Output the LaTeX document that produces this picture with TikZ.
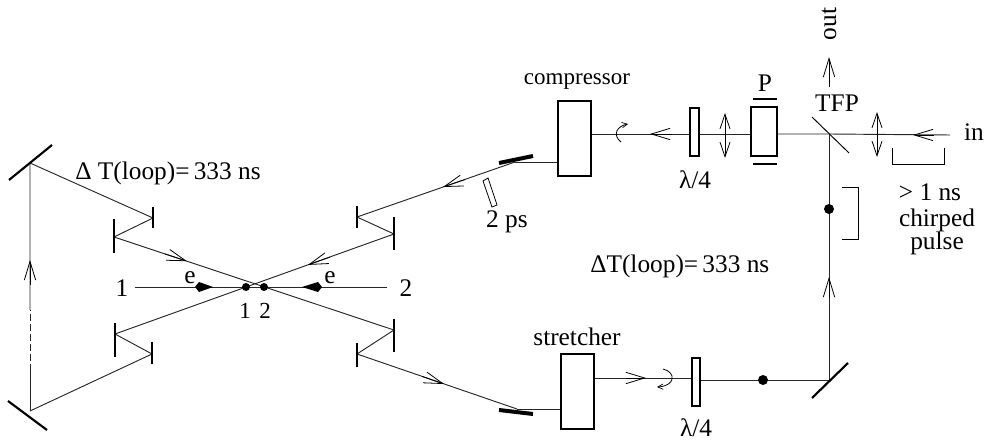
\documentclass[tikz,border=0pt]{standalone}
\usepackage{fontspec}
\setmainfont{Liberation Serif}
\usetikzlibrary{arrows.meta}
\tikzset{
 x=0.75pt,y=-0.75pt,
 beam/.style={line width=0.7pt,black!85},
 thick mirror/.style={line width=3pt,line cap=butt},
 mirror/.style={line width=1.6pt},
 optic/.style={draw,line width=1.5pt,fill=white,inner sep=0pt,minimum width=0pt},
 lbl/.style={inner sep=0pt,font=\fontsize{19}{21}\selectfont,text=black},
 sm/.style={inner sep=0pt,font=\fontsize{17.25}{19}\selectfont,text=black},
 ah/.style={-{Straight Barb[length=14pt,width=8.5pt,line width=0.6pt]},line width=0.6pt},
 dbl/.style={{Straight Barb[length=11pt,width=7.5pt,line width=0.6pt]}-{Straight Barb[length=11pt,width=7.5pt,line width=0.6pt]},line width=0.6pt},
 dot/.style={circle,fill=black,inner sep=0pt,minimum size=6pt},
 bigdot/.style={circle,fill=black,inner sep=0pt,minimum size=7.5pt},
 tick/.style={line width=0.6pt},
}
\begin{document}
\begin{tikzpicture}
\useasboundingbox (0,0) rectangle (988,441);
% beam points
\coordinate (ml) at (30,163); \coordinate (mb) at (30,411);
\coordinate (a1) at (153,218); \coordinate (a2) at (114,237);
\coordinate (a3) at (394,330); \coordinate (a4) at (357,354);
\coordinate (a5) at (517,409);
\coordinate (b1) at (152,354); \coordinate (b2) at (115,334);
\coordinate (b3) at (394,234); \coordinate (b4) at (357,217);
\coordinate (b5) at (515,162);
\coordinate (mr) at (829,380); \coordinate (tfp) at (829,134);
\coordinate (dashA) at (30,310); \coordinate (dashB) at (30,371);
% beams
\draw[beam] (mb) -- (dashB);
\draw[beam,dash pattern=on 5pt off 2.5pt] (dashB) -- (dashA);
\draw[beam] (dashA) -- (ml) -- (a1) -- (a2) -- (a3) -- (a4) -- (a5);
\draw[beam] (mb) -- (b1) -- (b2) -- (b3) -- (b4) -- (b5);
\draw[beam] (tfp) -- (mr);
% mirrors
\draw[mirror] (9,180) -- (52,145);
\draw[mirror] (8,401) -- (47,430);
\draw[mirror] (153,207) -- (153,228);
\draw[mirror] (114,219) -- (114,253);
\draw[mirror] (394,319) -- (394,352);
\draw[mirror] (357,343) -- (357,367);
\draw[mirror] (394,217) -- (394,250);
\draw[mirror] (357,206) -- (357,228);
\draw[mirror] (115,323) -- (115,357);
\draw[mirror] (152,342) -- (152,364);
\draw[thick mirror] (499,163) -- (533,156);
\draw[thick mirror] (499,410) -- (533,414);
\draw[mirror] (812,398) -- (848,363);
\draw[line width=0.7pt] (812,117) -- (849,153);
% boxes
\node[optic,minimum width=24.75pt,minimum height=56.25pt] (comp) at (574.5,138.5) {};
\node[optic,minimum width=24.75pt,minimum height=56.25pt] (stret) at (577.5,391.5) {};
\node[optic,minimum width=6.5pt,minimum height=36pt] (qw1) at (694.5,132) {};
\node[optic,minimum width=6.5pt,minimum height=36pt] (qw2) at (696,381.5) {};
\node[optic,minimum width=19.5pt,minimum height=36.75pt] (pc) at (764,131.5) {};
% links through boxes
\draw[beam] (b5) -- (comp.west |- b5);
\draw[beam] (a5) -- (stret.west |- a5);
\coordinate (y134) at (0,134); \coordinate (y378) at (0,378);
\draw[beam] (comp.east |- y134) -- (qw1.west |- y134);
\draw[beam] (qw1.east |- y134) -- (pc.west |- y134);
\draw[beam] (pc.east |- y134) -- (tfp) -- (950,135) coordinate (inA);
\draw[beam] (stret.east |- y378) -- (qw2.west |- y378);
\draw[beam] (qw2.east |- mr) -- (mr);
% P bars
\draw[mirror] (753,99) -- (777,99);
\draw[mirror] (753,164) -- (777,164);
% electron line
\coordinate (e1) at (135,287); \coordinate (e2) at (387,287);
\draw[beam] (e1) -- (e2);
\fill (195,287) -- (199,282) -- (213,287) -- (199,292) -- cycle;
\fill (322,287) -- (318,282) -- (302,287) -- (318,292) -- cycle;
\node[dot] (d1) at (246,287) {};
\node[dot] (d2) at (264,287) {};
\node[bigdot] (d3) at (829,209) {};
\node[bigdot] (d4) at (763,380) {};
% arrows
\coordinate (u1) at (30,285); \coordinate (u2) at (30,260);
\draw[ah] (u1) -- (u2);
\coordinate (r1) at (165,253.9); \coordinate (r2) at (187,261.2);
\draw[ah] (r1) -- (r2);
\coordinate (r3) at (330,257.1); \coordinate (r4) at (308,264.9);
\draw[ah] (r3) -- (r4);
\coordinate (r5) at (422,376.4); \coordinate (r6) at (444,384);
\draw[ah] (r5) -- (r6);
\coordinate (r7) at (465,179.6); \coordinate (r8) at (443,187);
\draw[ah] (r7) -- (r8);
\coordinate (h1) at (672,134); \coordinate (h2) at (650,134);
\draw[ah] (h1) -- (h2);
\coordinate (h3) at (626,378); \coordinate (h4) at (646,378);
\draw[ah] (h3) -- (h4);
\coordinate (h5) at (934,135); \coordinate (h6) at (913,135);
\draw[ah] (h5) -- (h6);
\coordinate (v1) at (829,87); \coordinate (v2) at (829,57);
\draw[ah] (v1) -- (v2);
\coordinate (v3) at (829,298); \coordinate (v4) at (829,277);
\draw[ah] (v3) -- (v4);
% lenses
\coordinate (l1a) at (725,113); \coordinate (l1b) at (725,158);
\draw[dbl] (l1a) -- (l1b);
\coordinate (l2a) at (877,112); \coordinate (l2b) at (877,157);
\draw[dbl] (l2a) -- (l2b);
% polarisation rotation
\draw[-{Straight Barb[length=4pt,width=4pt,line width=0.5pt]},line width=0.6pt] (621,142) .. controls (612,135) and (617,126) .. (628,124);
\draw[-{Straight Barb[length=4pt,width=4pt,line width=0.5pt]},line width=0.6pt] (663,369) .. controls (676,372) and (676,386) .. (657,387);
% brackets
\draw[tick] (892,148) -- (892,164) -- (944,164) -- (944,148);
\draw[tick] (842,187) -- (858,187) -- (858,239) -- (842,239);
% 2 ps slab
\draw[line width=0.6pt] (483,181) -- (488,178) -- (497,205) -- (492,207) -- cycle;
% text
\node[lbl,anchor=west] (t1) at (75,173) {Δ T(loop)=\,333 ns};
\node[lbl,anchor=west] (t2) at (590,266) {ΔT(loop)=\,333 ns};
\node[sm] (t3) at (577,82) {compressor};
\node[lbl] (t4) at (577,337) {stretcher};
\node[lbl] (t5) at (765,83) {P};
\node[lbl] (t6) at (837,103) {TFP};
\node[lbl] (t7) at (974,132) {in};
\node[lbl,rotate=90] (t8) at (829,24) {out};
\node[lbl] (t9) at (695,180) {λ/4};
\node[lbl,anchor=base] (t10) at (696,436) {λ/4};
\node[lbl] (t11) at (930,192) {> 1 ns};
\node[lbl] (t12) at (937,220) {chirped};
\node[lbl] (t13) at (937,243) {pulse};
\node[lbl] (t14) at (507,222) {2 ps};
\node[lbl] (t15) at (122,288) {1};
\node[lbl] (t16) at (406,288) {2};
\node[lbl] (t17) at (190,278) {e};
\node[lbl] (t18) at (330,278) {e};
\node[sm] (t19) at (245,311) {1};
\node[sm] (t20) at (265,311) {2};
\end{tikzpicture}
\end{document}
